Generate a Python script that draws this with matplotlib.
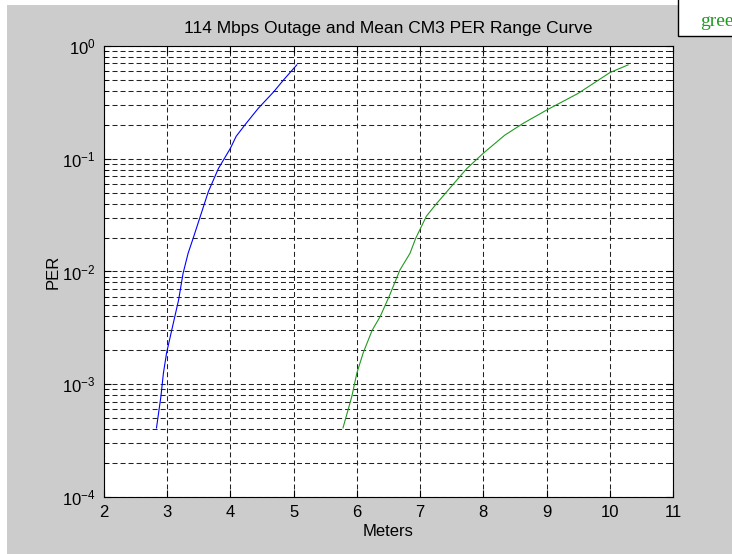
import matplotlib.pyplot as plt
from matplotlib.patches import Rectangle
from matplotlib.ticker import LogLocator, NullFormatter

# outage curve (blue)
outage_m = [2.83, 2.90, 2.94, 2.99, 3.07, 3.18, 3.25, 3.33, 3.41, 3.54, 3.65,
            3.81, 4.00, 4.09, 4.23, 4.44, 4.68, 4.84, 5.05]
outage_per = [0.00041, 0.00078, 0.00126, 0.0019, 0.0030, 0.0056, 0.0096, 0.0145,
              0.0197, 0.033, 0.051, 0.082, 0.124, 0.158, 0.20, 0.28, 0.39, 0.50, 0.68]

# mean curve (green)
mean_m = [5.78, 5.92, 6.00, 6.10, 6.24, 6.37, 6.52, 6.68, 6.84, 6.93, 7.10,
          7.26, 7.53, 7.74, 8.00, 8.34, 8.63, 9.00, 9.50, 10.00, 10.29]
mean_per = [0.00041, 0.00078, 0.00126, 0.0019, 0.0030, 0.0040, 0.0062, 0.0103,
            0.0145, 0.0197, 0.031, 0.040, 0.060, 0.082, 0.112, 0.162, 0.206,
            0.27, 0.38, 0.58, 0.68]

xticks = list(range(2, 12))

plt.rcParams['font.family'] = ['Liberation Sans', 'DejaVu Sans']

fig = plt.figure(figsize=(7.32, 5.54), dpi=100)
fig.patch.set_facecolor('white')
# gray figure area like matlab
fig.patches.append(Rectangle((7 / 732, 0), 1, 1 - 5 / 554, transform=fig.transFigure,
                             facecolor='#cccccc', edgecolor='none', zorder=-10))

ax = fig.add_axes([0.1421, 0.1029, 0.9194 - 0.1421, 0.9170 - 0.1029])
ax.plot(outage_m, outage_per, color='#0000ff', lw=0.8)
ax.plot(mean_m, mean_per, color='#1f9a1f', lw=0.8)

ax.set_yscale('log')
ax.set_xlim(2, 11)
ax.set_ylim(1e-4, 1)
ax.set_xticks(xticks)
ax.yaxis.set_major_locator(LogLocator(base=10, numticks=10))
ax.yaxis.set_minor_locator(LogLocator(base=10, subs=range(2, 10), numticks=10))
ax.yaxis.set_minor_formatter(NullFormatter())

dash = (0, (4.8, 2.9))
ax.grid(True, which='both', axis='y', color='#222222', linestyle=dash, linewidth=0.75)
ax.grid(True, which='major', axis='x', color='#222222', linestyle=dash, linewidth=0.75)
ax.tick_params(which='both', direction='in', top=True, right=True, labelsize=12)
ax.tick_params(which='major', length=5, pad=6)
ax.tick_params(which='minor', length=3)
for s in ax.spines.values():
    s.set_linewidth(0.8)

ax.set_title('114 Mbps Outage and Mean CM3 PER Range Curve', fontsize=12.5, pad=9)
ax.set_xlabel('Meters', fontsize=12, labelpad=3)
ax.set_ylabel('PER', fontsize=12, labelpad=1)

# cut-off note box in the corner
fig.patches.append(Rectangle((678 / 732, 1 - 36 / 554), 0.1, 0.1, transform=fig.transFigure,
                             facecolor='white', edgecolor='black', linewidth=1, zorder=5))
fig.text(700 / 732, 1 - 26 / 554, 'gree', color='#1f9a1f', fontsize=14,
         family='Liberation Serif', va='baseline', zorder=6)

fig.savefig('out.png', dpi=100)
